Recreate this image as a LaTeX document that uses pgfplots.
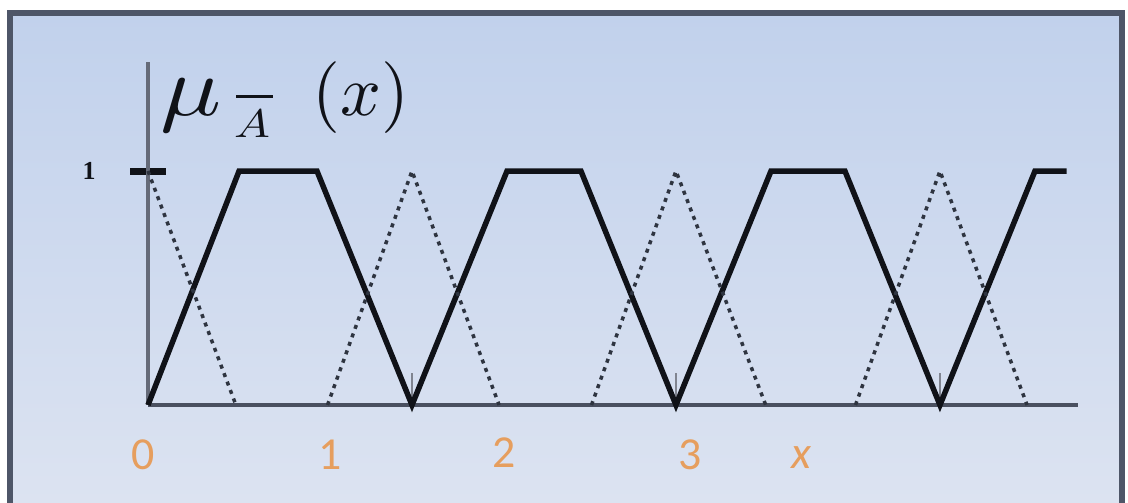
\documentclass[border=0pt]{standalone}
\usepackage{fontspec}
\usepackage{pgfplots}
\pgfplotsset{compat=1.18}
\newfontfamily\serifit{Liberation Serif}
\newfontfamily\calibri{Carlito}
\definecolor{framebd}{HTML}{4E5668}
\definecolor{bgtop}{HTML}{C1D1EC}
\definecolor{bgbot}{HTML}{DCE3F1}
\definecolor{axisgray}{HTML}{4A5060}
\definecolor{ink}{HTML}{101218}
\definecolor{dotgray}{HTML}{2E3440}
\definecolor{lbl}{HTML}{E69E5E}

\begin{document}
\begin{tikzpicture}[x=1bp,y=1bp]
\useasboundingbox (0,0) rectangle (1128,503);
\fill[white] (0,0) rectangle (1128,503);
% slide panel with a soft vertical gradient and a dark frame
\shade[top color=bgtop, bottom color=bgbot] (10,0) rectangle (1122,490);
\draw[framebd, line width=6bp] (10,-5) -- (10,490) -- (1122,490) -- (1122,-5);

\begin{axis}[
  at={(148bp,98bp)}, anchor=south west, scale only axis,
  width=930bp, height=343bp,
  xmin=0, xmax=3.523, ymin=0, ymax=1.466,
  axis x line=bottom, axis y line=left,
  x axis line style={-, line width=4bp, color=axisgray},
  y axis line style={-, line width=3.5bp, color=axisgray!85},
  xtick={1,2,3}, xticklabels={},
  ytick={1}, yticklabels={},
  tick align=inside,
  xtick style={line width=2.5bp, color=axisgray!70, /pgfplots/major tick length=32bp},
  ytick style={line width=7bp, color=ink, /pgfplots/major tick length=36bp, xshift=-18bp},
  clip=false,
]
% membership function of the complement (solid trapezoids)
\addplot[ink, line width=5.5bp, line join=miter, mark=none] coordinates {
  (0,0) (0.345,1) (0.64,1) (1,0) (1.36,1) (1.64,1) (2,0)
  (2.36,1) (2.64,1) (3,0) (3.36,1) (3.48,1)};
% triangular membership functions (dotted)
\addplot[dotgray, line width=3.5bp, dash pattern=on 4bp off 5bp, mark=none] coordinates {(0,1) (0.333,0)};
\addplot[dotgray, line width=3.5bp, dash pattern=on 4bp off 5bp, mark=none] coordinates {(0.68,0) (1,1) (1.33,0)};
\addplot[dotgray, line width=3.5bp, dash pattern=on 4bp off 5bp, mark=none] coordinates {(1.68,0) (2,1) (2.34,0)};
\addplot[dotgray, line width=3.5bp, dash pattern=on 4bp off 5bp, mark=none] coordinates {(2.68,0) (3,1) (3.33,0)};
\end{axis}

% y-axis label mu_{\bar A}(x)
\node[anchor=base west, inner sep=0, text=ink] at (160,387)
  {\scalebox{10.2}[8.5]{$\mu$}};
\node[anchor=base west, inner sep=0, text=ink] at (234,365)
  {\scalebox{4.8}[4]{$A$}};
\draw[ink, line width=3bp] (236,406) -- (273,406);
\node[anchor=base west, inner sep=0, text=ink] at (312,387)
  {\scalebox{7.2}{$(x)$}};

% tick label of the membership grade
\node[font=\serifit\bfseries\fontsize{26}{26}\selectfont, text=ink] at (89,332) {1};

% x-axis labels
\begin{scope}[every node/.style={font=\calibri\fontsize{46}{46}\selectfont, text=lbl}]
\node at (143,48) {0};
\node at (330,48) {1};
\node at (504,50) {2};
\node at (690,48) {3};
\node[font=\calibri\itshape\fontsize{46}{46}\selectfont] at (801,45) {x};
\end{scope}
\end{tikzpicture}
\end{document}
